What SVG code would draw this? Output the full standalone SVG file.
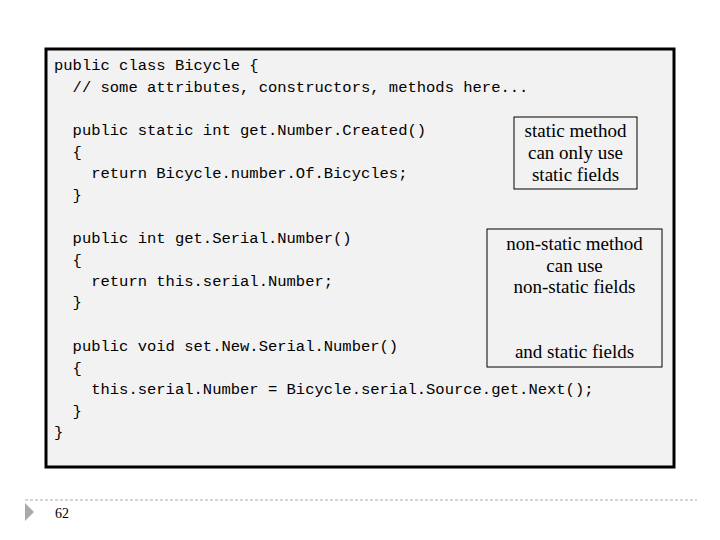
<svg xmlns="http://www.w3.org/2000/svg" width="720" height="540" viewBox="0 0 720 540">
<style>
.code{font-family:"Liberation Mono",monospace;font-size:15.5px;fill:#000;white-space:pre}
.note{font-family:"Liberation Serif",serif;font-size:19px;fill:#000;text-anchor:middle}
.box{fill:none;stroke:#000;stroke-width:1}
</style>
<rect width="720" height="540" fill="#fff"/>
<g id="frame"><rect x="46" y="49" width="628" height="418" fill="#f2f2f2" stroke="#000" stroke-width="3"/></g>
<g id="code">
<text class="code" x="54" y="70">public class Bicycle {</text>
<text class="code" x="54" y="92">  // some attributes, constructors, methods here...</text>
<text class="code" x="54" y="135">  public static int get.Number.Created()</text>
<text class="code" x="54" y="157">  {</text>
<text class="code" x="54" y="178">    return Bicycle.number.Of.Bicycles;</text>
<text class="code" x="54" y="200">  }</text>
<text class="code" x="54" y="243">  public int get.Serial.Number()</text>
<text class="code" x="54" y="265">  {</text>
<text class="code" x="54" y="286">    return this.serial.Number;</text>
<text class="code" x="54" y="307">  }</text>
<text class="code" x="54" y="351">  public void set.New.Serial.Number()</text>
<text class="code" x="54" y="373">  {</text>
<text class="code" x="54" y="394">    this.serial.Number = Bicycle.serial.Source.get.Next();</text>
<text class="code" x="54" y="416">  }</text>
<text class="code" x="54" y="437">}</text>
</g>
<g id="note1"><rect class="box" x="514" y="117" width="123" height="72"/>
<text class="note" x="575.500" y="137">static method</text>
<text class="note" x="575.500" y="159">can only use</text>
<text class="note" x="575.500" y="181">static fields</text></g>
<g id="note2"><rect class="box" x="487" y="229" width="175" height="138"/>
<text class="note" x="574.500" y="250">non-static method</text>
<text class="note" x="574.500" y="272">can use</text>
<text class="note" x="574.500" y="293">non-static fields</text>
<text class="note" x="574.500" y="358">and static fields</text></g>
<g id="footer">
<line x1="25" y1="500" x2="697" y2="500" stroke="#aaa" stroke-dasharray="3,2"/>
<polygon points="25,503 34,512 25,521" fill="#aaa"/>
<text x="55" y="518" font-family="Liberation Serif,serif" font-size="14">62</text>
</g>
</svg>
